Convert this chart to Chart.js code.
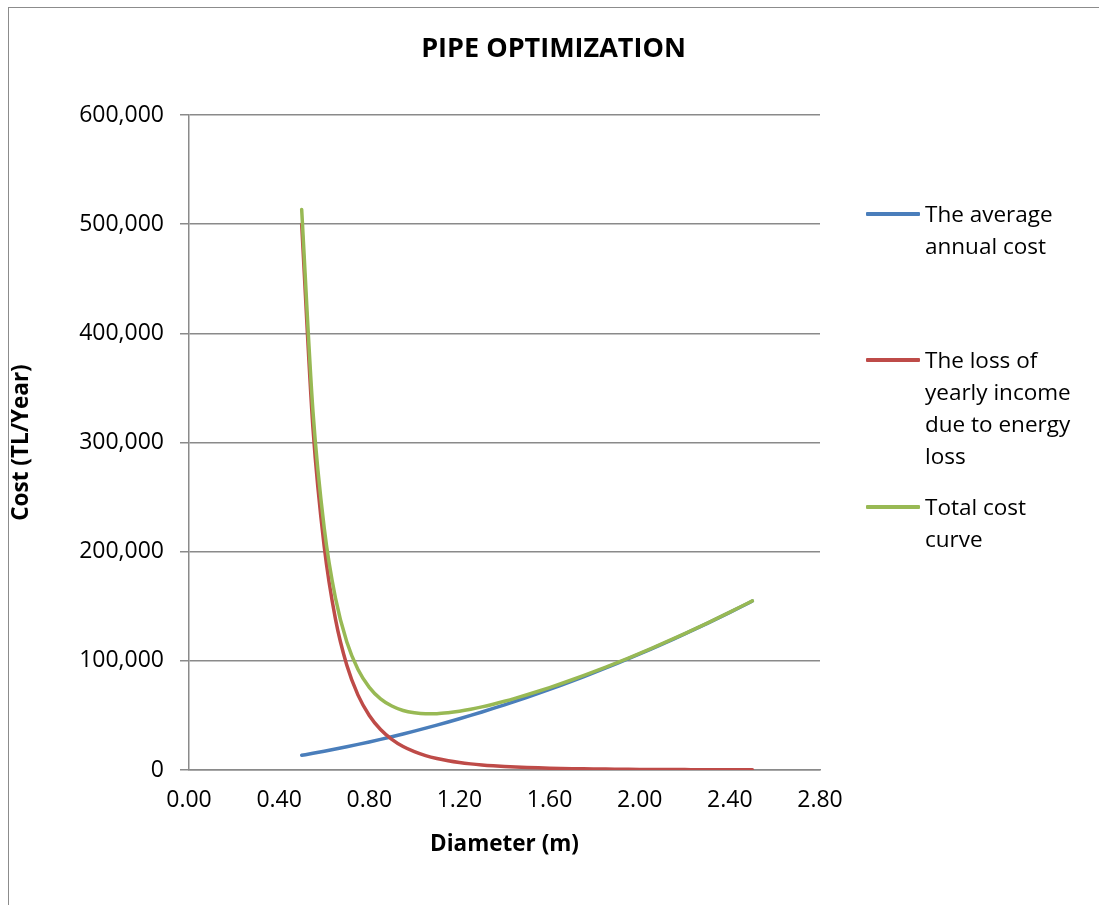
<!DOCTYPE html>
<html>
<head>
<meta charset="utf-8">
<title>Pipe optimization</title>
<script src="https://cdn.jsdelivr.net/npm/chart.js@4.4.1/dist/chart.umd.min.js"></script>
<style>
  html, body { margin: 0; padding: 0; background: #fff; }
  body { width: 1099px; height: 905px; position: relative; overflow: hidden; font-family: "Open Sans", sans-serif; color: #000; }
  .frame { position: absolute; left: 8px; top: 7px; width: 2000px; height: 2000px; border-top: 1.5px solid #8c8c8c; border-left: 1.5px solid #8c8c8c; }
  #chart { position: absolute; left: 0; top: 0; }
  .title { position: absolute; left: 8px; right: 0; top: 28px; text-align: center; font-size: 27px; font-weight: 700; }
  .leg { position: absolute; left: 866px; font-size: 22.5px; line-height: 32px; }
  .leg .sw { position: absolute; left: 0; top: 14px; width: 54px; height: 4px; border-radius: 1px; }
  .leg .tx { margin-left: 59px; white-space: nowrap; }
</style>
</head>
<body>
<div class="frame"></div>
<canvas id="chart" width="1099" height="905"></canvas>
<div class="title">PIPE OPTIMIZATION</div>
<div class="leg" style="top:198px"><div class="sw" style="background:#4A7EBB"></div><div class="tx">The average<br>annual cost</div></div>
<div class="leg" style="top:344px"><div class="sw" style="background:#BE4B48"></div><div class="tx">The loss of<br>yearly income<br>due to energy<br>loss</div></div>
<div class="leg" style="top:491px"><div class="sw" style="background:#98B954"></div><div class="tx">Total cost<br>curve</div></div>
<script>
// pipe diameters (m)
const diameters = [
  0.50, 0.55, 0.60, 0.65, 0.70, 0.75, 0.80, 0.85, 0.90, 0.95,
  1.00, 1.05, 1.10, 1.15, 1.20, 1.25, 1.30, 1.35, 1.40, 1.45,
  1.50, 1.55, 1.60, 1.65, 1.70, 1.75, 1.80, 1.85, 1.90, 1.95,
  2.00, 2.05, 2.10, 2.15, 2.20, 2.25, 2.30, 2.35, 2.40, 2.45, 2.50
];

// average annual cost of the pipe (TL/year)
const annualCost = [
  13450, 15280, 17190, 19190, 21280, 23460, 25720, 28070, 30510, 33040,
  35650, 38350, 41140, 44020, 46980, 50030, 53170, 56400, 59710, 63110,
  66600, 70180, 73840, 77590, 81430, 85360, 89370, 93470, 97660, 101940,
  106300, 110750, 115290, 119920, 124630, 129430, 134320, 139300, 144360, 149510, 154750
];

// yearly income lost to head loss (TL/year)
const energyLoss = [
  500000, 313400, 204600, 138200, 96200, 68600, 50000, 37100, 28100, 21500,
  16800, 13200, 10500, 8450, 6850, 5610, 4630, 3850, 3220, 2710,
  2300, 1960, 1680, 1440, 1240, 1080, 940, 820, 720, 640,
  560, 500, 440, 390, 350, 310, 280, 250, 230, 210, 190
];

// total = annual cost + energy loss (TL/year)
const totalCost = [
  513450, 328680, 221790, 157390, 117480, 92060, 75720, 65170, 58610, 54540,
  52450, 51550, 51640, 52470, 53830, 55640, 57800, 60250, 62930, 65820,
  68900, 72140, 75520, 79030, 82670, 86440, 90310, 94290, 98380, 102580,
  106860, 111250, 115730, 120310, 124980, 129740, 134600, 139550, 144590, 149720, 154940
];

const xTicks = [0, 0.4, 0.8, 1.2, 1.6, 2.0, 2.4, 2.8];
const yTicks = [0, 100000, 200000, 300000, 400000, 500000, 600000];

const pts = arr => arr.map((v, i) => ({ x: diameters[i], y: v }));

function serie(label, data, color, order) {
  return {
    label, data: pts(data), borderColor: color, backgroundColor: color,
    borderWidth: 3.5, pointRadius: 0, fill: false,
    cubicInterpolationMode: 'monotone', borderCapStyle: 'round', order
  };
}

const gray = '#8a8a8a';
const tickFont = { family: '"Open Sans", sans-serif', size: 23 };
const titleFont = { family: '"Open Sans", sans-serif', size: 22.5, weight: 'bold' };

new Chart(document.getElementById('chart'), {
  type: 'line',
  data: {
    datasets: [
      serie('The average annual cost', annualCost, '#4A7EBB', 2),
      serie('The loss of yearly income due to energy loss', energyLoss, '#BE4B48', 1),
      serie('Total cost curve', totalCost, '#98B954', 0)
    ]
  },
  options: {
    responsive: false,
    animation: false,
    devicePixelRatio: 1,
    layout: { padding: { left: 0, top: 115, right: 279, bottom: 0 } },
    plugins: { legend: { display: false }, title: { display: false }, tooltip: { enabled: false } },
    scales: {
      x: {
        type: 'linear', min: 0, max: 2.8,
        afterFit: s => { s.height = 135; },
        afterBuildTicks: s => { s.ticks = xTicks.map(v => ({ value: v })); },
        grid: { display: false, drawTicks: false },
        border: { display: true, color: gray, width: 1.5 },
        ticks: { color: '#000', font: tickFont, padding: 17, maxRotation: 0, callback: v => Number(v).toFixed(2) },
        title: { display: true, text: 'Diameter (m)', color: '#000', font: titleFont, padding: { top: 0, bottom: 47 } }
      },
      y: {
        type: 'linear', min: 0, max: 600000,
        afterFit: s => { s.width = 189; },
        afterBuildTicks: s => { s.ticks = yTicks.map(v => ({ value: v })); },
        grid: { color: gray, lineWidth: 1.5, drawTicks: true, tickLength: 9 },
        border: { display: true, color: gray, width: 1.5 },
        ticks: { color: '#000', font: tickFont, padding: 16, callback: v => Number(v).toLocaleString('en-US') },
        title: { display: true, text: 'Cost (TL/Year)', color: '#000', font: titleFont, padding: { top: 8, bottom: 0 } }
      }
    }
  }
});
</script>
</body>
</html>
